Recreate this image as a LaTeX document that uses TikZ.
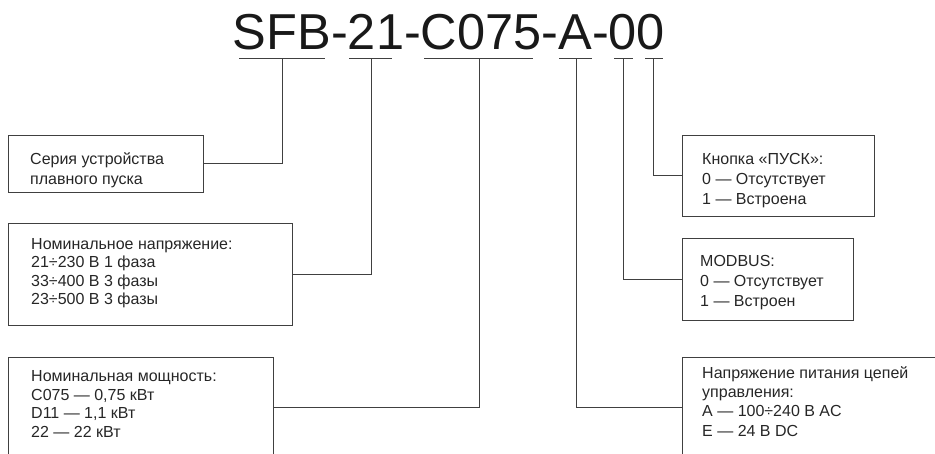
\documentclass[tikz,border=0pt]{standalone}
\usepackage{fontspec}
\setmainfont{Liberation Sans}
\usepackage{tikz}
\usetikzlibrary{positioning}

\begin{document}
\begin{tikzpicture}[
            x=1pt, y=-1pt,
            box/.style={rectangle, draw=black!75, line width=0.9pt, anchor=north west, inner sep=0pt},
            txt/.style={anchor=base west, align=left, inner sep=0pt, text=black!85},
            link/.style={draw=black!75, line width=0.9pt}
        ]
            \useasboundingbox (0,0) rectangle (935,454);
            \clip (0,0) rectangle (935,454);

            \node[anchor=base, font=\fontsize{50.5}{51}\selectfont, text=black!90] (code) at (449,50) {SFB-21-C075-A-00};

            % underlines under the code parts
            \foreach \a/\b/\t/\n in {239/325/282/ser, 349/392/371/volt, 424/533/479/pow, 559/592/576/ctl, 614/633/623/mod, 645/663/653/btn}{
                \draw[link] (\a,58) -- (\b,58);
                \coordinate (t\n) at (\t,58);
            }

            \node[box, minimum width=195, minimum height=57]  (ser)  at (8,135)   {};
            \node[box, minimum width=284, minimum height=102] (volt) at (8,223)   {};
            \node[box, minimum width=265, minimum height=100] (pow)  at (8,357)   {};
            \node[box, minimum width=192, minimum height=81]  (btn)  at (682,135) {};
            \node[box, minimum width=171, minimum height=82]  (mod)  at (682,238) {};
            \node[box, minimum width=300, minimum height=100] (ctl)  at (682,357) {};

            % base anchor sits on the last line
            \node[txt, font=\fontsize{16}{20}\selectfont]   (sertxt)  at (30,185)  {Серия устройства\\плавного пуска};
            \node[txt, font=\fontsize{16}{18.6}\selectfont] (volttxt) at (31,305)  {Номинальное напряжение:\\21÷230 В 1 фаза\\33÷400 В 3 фазы\\23÷500 В 3 фазы};
            \node[txt, font=\fontsize{16}{18.4}\selectfont] (powtxt)  at (31,437)  {Номинальная мощность:\\C075 — 0,75 кВт\\D11 — 1,1 кВт\\22 — 22 кВт};
            \node[txt, font=\fontsize{16}{20}\selectfont]   (btntxt)  at (702,205) {Кнопка «ПУСК»:\\0 — Отсутствует\\1 — Встроена};
            \node[txt, font=\fontsize{16}{20}\selectfont]   (modtxt)  at (700,307) {MODBUS:\\0 — Отсутствует\\1 — Встроен};
            \node[txt, font=\fontsize{16}{19.3}\selectfont] (ctltxt)  at (702,436) {Напряжение питания цепей\\управления:\\A — 100÷240 В AC\\E — 24 В DC};

            \draw[link] (ser.east)  -| (tser);
            \draw[link] (volt.east) -| (tvolt);
            \draw[link] (pow.east)  -| (tpow);
            \draw[link] (ctl.west)  -| (tctl);
            \draw[link] (mod.west)  -| (tmod);
            \draw[link] (btn.west)  -| (tbtn);
        \end{tikzpicture}
\end{document}
